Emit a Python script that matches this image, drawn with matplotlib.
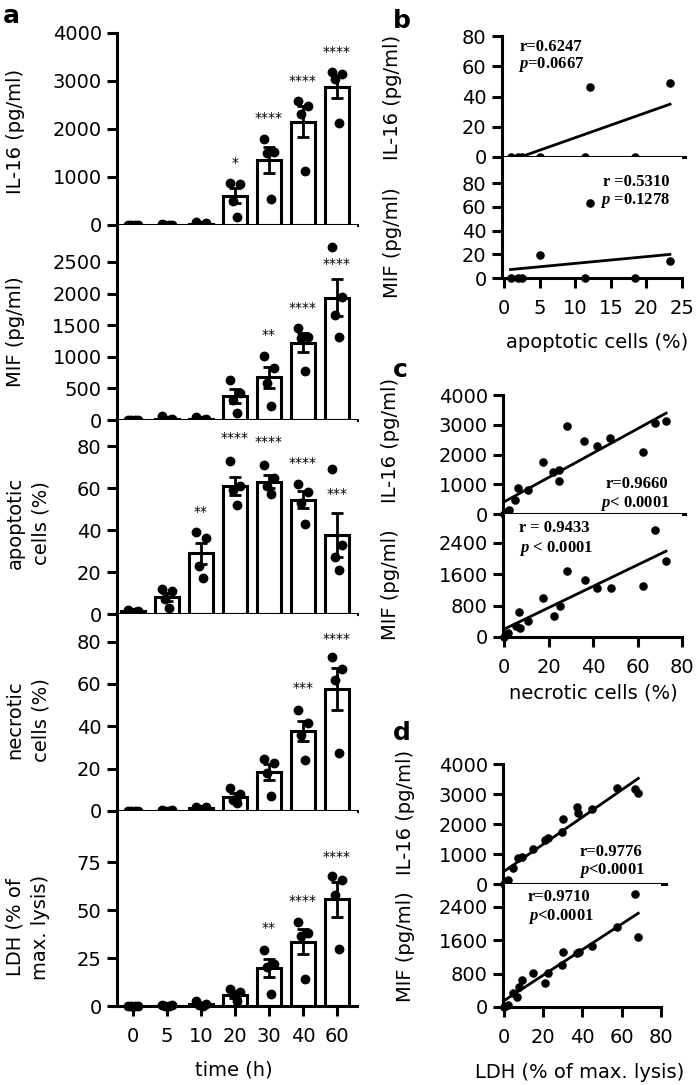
import numpy as np
import matplotlib.pyplot as plt

plt.rcParams['font.family'] = 'DejaVu Sans'
plt.rcParams['mathtext.fontset'] = 'custom'
plt.rcParams['mathtext.it'] = 'Liberation Serif:italic:bold'
plt.rcParams['mathtext.rm'] = 'Liberation Serif:bold'

# ---- panel a: time course (means, SEM, single values) ----
time_labels = ['0', '5', '10', '20', '30', '40', '60']

il16_mean = [0, 8, 25, 610, 1345, 2155, 2880]
il16_sem = [0, 5, 15, 160, 270, 330, 240]
il16_pts = [[0, 0, 0, 0], [20, 10, 0, 0], [60, 40, 0, 0], [880, 860, 500, 170],
            [1800, 1530, 1500, 550], [2590, 2480, 2310, 1120], [3180, 3150, 3040, 2130]]
il16_stars = ['', '', '', '*', '****', '****', '****']
il16_star_y = [0, 0, 0, 1293, 2238, 3007, 3601]

mif_mean = [0, 20, 12, 385, 675, 1225, 1935]
mif_sem = [0, 15, 10, 110, 165, 150, 290]
mif_pts = [[0, 0, 0, 0], [70, 10, 0, 0], [40, 10, 0, 0], [640, 420, 320, 105],
           [1010, 815, 580, 220], [1460, 1315, 1290, 780], [2740, 1950, 1660, 1315]]
mif_stars = ['', '', '', '', '**', '****', '****']
mif_star_y = [0, 0, 0, 0, 1342, 1779, 2474]

apo_mean = [1.5, 8.1, 29, 61, 63, 54.5, 37.5]
apo_sem = [0.3, 2, 5, 4.3, 3, 4, 10.5]
apo_pts = [[2, 1.5, 1, 1], [12, 11, 7, 3], [39, 36, 23, 17], [73, 61, 59, 52],
           [71, 65, 61, 57], [62, 58, 53, 43], [69, 33, 27, 21]]
apo_stars = ['', '', '**', '****', '****', '****', '***']
apo_star_y = [0, 0, 48.8, 83.8, 81.9, 71.9, 57.1]

nec_mean = [0, 0.2, 1.5, 6.8, 18.6, 37.8, 57.6]
nec_sem = [0, 0.1, 0.3, 1.5, 3.8, 4.8, 10]
nec_pts = [[0, 0, 0, 0], [0.5, 0.3, 0, 0], [2, 2, 1, 1], [11, 8, 5, 4],
           [24.5, 22.5, 18, 7], [47.5, 41.5, 36, 24], [72.5, 67, 62, 27.5]]
nec_stars = ['', '', '', '', '', '***', '****']
nec_star_y = [0, 0, 0, 0, 0, 58.2, 81.3]

ldh_mean = [0, 0.2, 1, 5.6, 19.9, 33.4, 55.6]
ldh_sem = [0, 0.1, 0.5, 1.5, 4.8, 6.5, 9.2]
ldh_pts = [[0, 0, 0, 0], [0.5, 0.3, 0, 0], [2.5, 1, 0.5, 0], [9, 7.5, 6, 2.5],
           [29, 22, 20.5, 6], [44, 38, 36.5, 14], [67.5, 65.5, 58, 29.5]]
ldh_stars = ['', '', '', '', '**', '****', '****']
ldh_star_y = [0, 0, 0, 0, 40.6, 54.7, 77.6]

# ---- panel b: apoptotic cells vs cytokines ----
b_x = [0.9, 1.9, 2.5, 5.1, 11.4, 12.0, 18.4, 23.3]
b_il16 = [0, 0, 0, 0, 0, 46, 0, 49]
b_mif = [0, 0, 0, 19, 0, 63, 0, 14]

# ---- panel c: necrotic cells vs cytokines ----
c_x_il16 = [0, 0.3, 1.0, 2.4, 4.9, 6.4, 10.9, 17.7, 21.9, 24.9, 24.7, 28.2, 36.1, 41.7, 47.7, 62.6, 67.9, 72.8]
c_il16 = [0, 10, 60, 134, 470, 864, 806, 1759, 1422, 1479, 1120, 2968, 2454, 2286, 2544, 2095, 3070, 3126]
c_x_mif = [0, 1.9, 5.4, 7.2, 6.9, 10.9, 17.7, 22.6, 25.2, 28.2, 36.4, 41.7, 47.9, 62.6, 67.9, 72.8]
c_mif = [0, 94, 281, 221, 646, 416, 1004, 544, 791, 1693, 1455, 1259, 1259, 1302, 2732, 1940]

# ---- panel d: LDH vs cytokines ----
d_x_il16 = [0, 2.2, 4.8, 7.3, 9.0, 15.0, 20.9, 22.6, 29.4, 29.9, 37.0, 37.9, 44.7, 57.4, 66.8, 68.4]
d_il16 = [0, 133, 522, 856, 911, 1156, 1467, 1522, 1744, 2156, 2578, 2356, 2489, 3189, 3156, 3022]
d_x_mif = [0, 2.2, 4.8, 6.5, 7.8, 9.0, 15.0, 20.9, 22.6, 29.4, 30.2, 37.0, 38.3, 44.7, 57.4, 66.8, 68.4]
d_mif = [0, 48, 328, 248, 488, 648, 808, 568, 824, 1008, 1328, 1288, 1328, 1464, 1928, 2704, 1688]

W, H = 700, 1085
fig = plt.figure(figsize=(W / 100, H / 100), dpi=100)


def add_ax(left, top, right, bottom):
    return fig.add_axes([left / W, 1 - bottom / H, (right - left) / W, (bottom - top) / H])


def ftext(x, y, s, **kw):
    fig.text(x / W, 1 - y / H, s, **kw)


def style(ax, xticks=False):
    for s in ['top', 'right']:
        ax.spines[s].set_visible(False)
    for s in ['left', 'bottom']:
        ax.spines[s].set_linewidth(2.2)
    ax.tick_params(axis='y', length=7, width=2.2, labelsize=14, pad=4)
    if xticks:
        ax.tick_params(axis='x', length=7, width=2.2, labelsize=14, pad=8)
    else:
        ax.tick_params(axis='x', length=0, labelbottom=False)


offs = np.array([-0.16, 0.16, -0.05, 0.05])


def bar_panel(ax, means, sems, points, stars, star_y, ytop, yticks):
    pos = np.arange(len(means))
    ax.bar(pos, means, width=0.72, color='white', edgecolor='black', linewidth=2.2, zorder=2)
    ax.errorbar(pos, means, yerr=sems, fmt='none', ecolor='black', elinewidth=2,
                capsize=4, capthick=2, zorder=3)
    for i, pts in enumerate(points):
        ax.scatter(i + offs[:len(pts)], pts, s=50, color='black', linewidths=0,
                   zorder=4, clip_on=False)
    for i, (s, y) in enumerate(zip(stars, star_y)):
        if s:
            ax.text(i, y, s, ha='center', va='center', fontsize=10)
    ax.set_xlim(-0.47, 6.59)
    ax.set_ylim(0, ytop)
    ax.set_yticks(yticks)


ax1 = add_ax(117, 33, 357, 225)
ax2 = add_ax(117, 225, 357, 420)
ax3 = add_ax(117, 420, 357, 614)
ax4 = add_ax(117, 614, 357, 811)
ax5 = add_ax(117, 811, 357, 1006)

bar_panel(ax1, il16_mean, il16_sem, il16_pts, il16_stars, il16_star_y, 4000, range(0, 4001, 1000))
bar_panel(ax2, mif_mean, mif_sem, mif_pts, mif_stars, mif_star_y, 3085, range(0, 2501, 500))
bar_panel(ax3, apo_mean, apo_sem, apo_pts, apo_stars, apo_star_y, 92.4, range(0, 81, 20))
bar_panel(ax4, nec_mean, nec_sem, nec_pts, nec_stars, nec_star_y, 93, range(0, 81, 20))
bar_panel(ax5, ldh_mean, ldh_sem, ldh_pts, ldh_stars, ldh_star_y, 101.6, range(0, 76, 25))

for ax in [ax1, ax2, ax3, ax4]:
    style(ax)
style(ax5, xticks=True)
ax5.set_xticks(range(len(time_labels)))
ax5.set_xticklabels(time_labels)

for x, y, s in [(16, 131, 'IL-16 (pg/ml)'), (16, 332, 'MIF (pg/ml)'),
                (28, 523, 'apoptotic\ncells (%)'), (28, 720, 'necrotic\ncells (%)'),
                (28, 927, 'LDH (% of\nmax. lysis)')]:
    ftext(x, y, s, rotation=90, ha='center', va='center', fontsize=14,
          linespacing=1.45, multialignment='center')
ftext(234, 1070, 'time (h)', ha='center', va='center', fontsize=14)


def scatter_panel(ax, x, y, xlim, ytop, yticks):
    ax.scatter(x, y, s=38, color='black', linewidths=0, zorder=4, clip_on=False)
    k, b = np.polyfit(x, y, 1)
    xs = np.array([min(x), max(x)])
    ax.plot(xs, k * xs + b, color='black', lw=2)
    ax.set_xlim(*xlim)
    ax.set_ylim(0, ytop)
    ax.set_yticks(yticks)


# panel b
bt = add_ax(502, 36, 685, 157)
bb = add_ax(502, 157, 682, 278)
scatter_panel(bt, b_x, b_il16, (-0.3, 25.4), 80, range(0, 81, 20))
scatter_panel(bb, b_x, b_mif, (-0.3, 25), 102, range(0, 81, 20))
style(bt)
style(bb, xticks=True)
bb.set_xticks(range(0, 26, 5))

# panel c
ct = add_ax(503, 395, 685, 514)
cb = add_ax(503, 514, 682, 637)
scatter_panel(ct, c_x_il16, c_il16, (-0.45, 81.3), 4000, range(0, 4001, 1000))
scatter_panel(cb, c_x_mif, c_mif, (-0.45, 80), 3140, range(0, 2401, 800))
style(ct)
style(cb, xticks=True)
cb.set_xticks(range(0, 81, 20))

# panel d
dt = add_ax(503, 764, 666, 884)
db = add_ax(503, 884, 661, 1007)
scatter_panel(dt, d_x_il16, d_il16, (-0.5, 82.5), 4000, range(0, 4001, 1000))
scatter_panel(db, d_x_mif, d_mif, (-0.5, 80), 2950, range(0, 2401, 800))
style(dt)
style(db, xticks=True)
db.set_xticks(range(0, 81, 20))

# axis titles of b, c, d
for x, y, s in [(393, 97, 'IL-16 (pg/ml)'), (393, 243, 'MIF (pg/ml)'),
                (391, 440, 'IL-16 (pg/ml)'), (391, 585, 'MIF (pg/ml)'),
                (405, 812, 'IL-16 (pg/ml)'), (405, 947, 'MIF (pg/ml)')]:
    ftext(x, y, s, rotation=90, ha='center', va='center', fontsize=14)
ftext(597, 343, 'apoptotic cells (%)', ha='center', va='center', fontsize=14)
ftext(593, 693, 'necrotic cells (%)', ha='center', va='center', fontsize=14)
ftext(580, 1072, 'LDH (% of max. lysis)', ha='center', va='center', fontsize=14)

# correlation statistics
stats = [(520, 47, 'r=0.6247'), (518, 65, '$p$=0.0667'),
         (603, 182, 'r =0.5310'), (600, 200, '$p$ =0.1278'),
         (606, 484, 'r=0.9660'), (600, 503, '$p$< 0.0001'),
         (519, 528, 'r = 0.9433'), (519, 548, '$p$ < 0.0001'),
         (580, 852, 'r=0.9776'), (579, 871, '$p$<0.0001'),
         (528, 897, 'r=0.9710'), (528, 917, '$p$<0.0001')]
for x, y, s in stats:
    ftext(x, y, s, ha='left', va='center', fontsize=12, family='Liberation Serif',
          fontweight='bold')

# panel letters
for x, y, s in [(3, 23, 'a'), (393, 28, 'b'), (393, 377, 'c'), (393, 740, 'd')]:
    ftext(x, y, s, ha='left', va='baseline', fontsize=18, fontweight='bold')

fig.savefig('out.png', dpi=100)
